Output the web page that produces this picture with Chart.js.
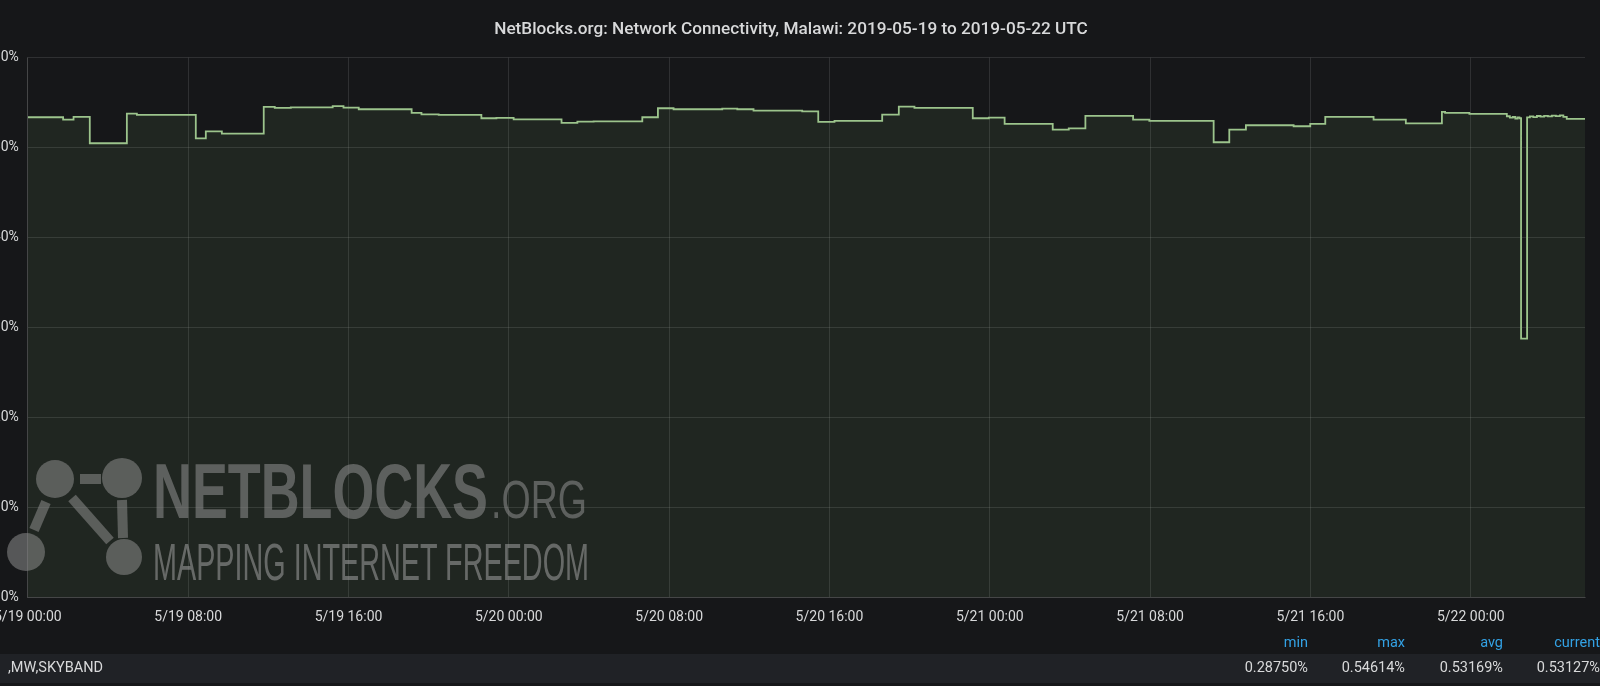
<!DOCTYPE html>
<html>
<head>
<meta charset="utf-8">
<script src="https://cdn.jsdelivr.net/npm/chart.js@4/dist/chart.umd.min.js"></script>
<style>
  html, body { margin: 0; padding: 0; background: #161719; overflow: hidden; }
  body { width: 1600px; height: 686px; position: relative; font-family: Roboto, sans-serif; }
  #wrap { position: absolute; left: -18px; top: 0; width: 1618px; height: 641px; }
  #mark { position: absolute; left: 0; top: 0; pointer-events: none; }
  .legend-head { position: absolute; top: 634px; height: 18px; width: 100%; }
  .legend-row { position: absolute; top: 654px; height: 29px; width: 100%; background: #202226; }
  .cell { position: absolute; font-size: 14.5px; line-height: 18px; white-space: nowrap; text-align: right; }
  .legend-head .cell { color: #33a2e5; top: 0; }
  .legend-row .cell { color: #d8d9da; top: 5px; }
  .series { position: absolute; left: 8px; top: 5px; font-size: 14.5px; line-height: 18px; color: #d8d9da; }
</style>
</head>
<body>
<div id="wrap"><canvas id="netChart"></canvas></div>

<!-- watermark -->
<svg id="mark" width="1600" height="686">
  <g fill="rgba(140,140,140,0.55)">
    <circle cx="55" cy="479" r="19"/>
    <circle cx="122" cy="478" r="20"/>
    <circle cx="26" cy="552" r="19"/>
    <circle cx="124" cy="557" r="18"/>
  </g>
  <g stroke="rgba(140,140,140,0.55)" stroke-width="10" fill="none">
    <line x1="80" y1="479" x2="101" y2="479"/>
    <line x1="122" y1="500" x2="123" y2="538"/>
    <line x1="72" y1="498" x2="110" y2="541"/>
    <line x1="46" y1="502" x2="34" y2="530"/>
  </g>
  <text x="153" y="518" font-family="'Liberation Sans Narrow', 'Liberation Sans', sans-serif" font-weight="bold" font-size="78" textLength="335" lengthAdjust="spacingAndGlyphs" fill="rgba(135,135,135,0.6)">NETBLOCKS</text>
  <text x="491" y="518" font-family="'Liberation Sans Narrow', 'Liberation Sans', sans-serif" font-size="54" textLength="96" lengthAdjust="spacingAndGlyphs" fill="rgba(135,135,135,0.6)">.ORG</text>
  <text x="153" y="580" font-family="'Liberation Sans Narrow', 'Liberation Sans', sans-serif" font-size="52" textLength="436" lengthAdjust="spacingAndGlyphs" fill="rgba(150,150,150,0.6)">MAPPING INTERNET FREEDOM</text>
</svg>

<div class="legend-head" id="legendHead"></div>
<div class="legend-row" id="legendRow"><span class="series" id="seriesName"></span></div>

<script>
// hours since 2019-05-19 00:00 UTC, value holds until the next point
const hours = [
  0, 1.76, 2.28, 3.09, 4.94, 5.44, 8.38, 8.88, 9.68, 11.77, 12.32, 13.12,
  15.21, 15.75, 16.51, 19.15, 19.64, 20.50, 22.63, 23.38, 24.24, 26.63, 27.42, 28.23,
  30.66, 31.44, 32.22, 34.65, 35.40, 36.21, 38.64, 39.44, 40.25, 42.63, 43.46, 44.24,
  47.15, 47.95, 48.74, 51.14, 51.94, 52.77, 55.15, 55.96, 59.17, 59.95, 60.78, 63.16,
  63.99, 64.74, 67.15, 68.76, 70.56, 70.72, 71.93, 73.80, 73.95, 74.10, 74.22, 74.33,
  74.43, 74.51, 74.81, 74.95, 75.12, 75.30, 75.48, 75.66, 75.85, 76.05, 76.25, 76.45,
  76.62, 76.79, 77.70
];

// connectivity in percent
const connectivity = [
  0.5337, 0.5311, 0.5341, 0.5048, 0.5378, 0.5363, 0.5103, 0.5181, 0.5156, 0.5452, 0.5441, 0.5448,
  0.5461, 0.5444, 0.5426, 0.5386, 0.5370, 0.5363, 0.5326, 0.5330, 0.5314, 0.5274, 0.5289, 0.5292,
  0.5337, 0.5437, 0.5426, 0.5433, 0.5426, 0.5411, 0.5403, 0.5286, 0.5297, 0.5367, 0.5456, 0.5441,
  0.5326, 0.5333, 0.5263, 0.5200, 0.5214, 0.5352, 0.5311, 0.5297, 0.5059, 0.5200, 0.5248, 0.5237,
  0.5263, 0.5341, 0.5311, 0.5270, 0.5397, 0.5386, 0.5374, 0.5348, 0.5332, 0.5340, 0.5322, 0.5336,
  0.5326, 0.2875, 0.5336, 0.5346, 0.5339, 0.5351, 0.5344, 0.5353, 0.5347, 0.5356, 0.5349, 0.5357,
  0.5342, 0.5319, 0.5313
];

const seriesLabel = ",MW,SKYBAND";
const statNames = ["min", "max", "avg", "current"];
const statValues = ["0.28750%", "0.54614%", "0.53169%", "0.53127%"];
const statRight = [292, 195, 97, 0];

// legend table
const head = document.getElementById("legendHead");
const row = document.getElementById("legendRow");
document.getElementById("seriesName").textContent = seriesLabel;
statNames.forEach((name, i) => {
  const h = document.createElement("span");
  h.className = "cell";
  h.style.right = statRight[i] + "px";
  h.textContent = name;
  head.appendChild(h);
  const v = document.createElement("span");
  v.className = "cell";
  v.style.right = statRight[i] + "px";
  v.textContent = statValues[i];
  row.appendChild(v);
});

function pad(n) {
  return n < 10 ? "0" + n : "" + n;
}

// format hour offsets like grafana's time axis
function hourLabel(h) {
  const day = 19 + Math.floor(h / 24);
  return "5/" + day + " " + pad(Math.round(h % 24)) + ":00";
}

Chart.defaults.font.family = "Roboto, sans-serif";
Chart.defaults.color = "#d8d9da";

const gridColor = "rgba(255, 255, 255, 0.11)";

new Chart("netChart", {
  type: "line",
  data: {
    datasets: [
      {
        label: seriesLabel,
        data: hours.map((h, i) => ({ x: h, y: connectivity[i] })),
        stepped: true,
        borderColor: "#9cc48c",
        borderWidth: 1.8,
        backgroundColor: "rgba(126, 178, 109, 0.1)",
        fill: "origin",
        pointRadius: 0,
      },
    ],
  },
  options: {
    responsive: true,
    maintainAspectRatio: false,
    animation: false,
    layout: { padding: { right: 0, bottom: 3 } },
    plugins: {
      legend: { display: false },
      tooltip: { enabled: false },
      title: {
        display: true,
        text: "NetBlocks.org: Network Connectivity, Malawi: 2019-05-19 to 2019-05-22 UTC",
        color: "#d8d9da",
        font: { size: 17.2, weight: "500" },
        padding: { top: 19, bottom: 18 },
      },
    },
    scales: {
      x: {
        type: "linear",
        min: 0,
        max: 77.7,
        grid: { color: gridColor, drawTicks: false },
        border: { color: gridColor },
        ticks: {
          stepSize: 8,
          includeBounds: false,
          padding: 12,
          maxRotation: 0,
          font: { size: 14 },
          callback: (v) => hourLabel(v),
        },
      },
      y: {
        min: 0,
        max: 0.6,
        grid: { color: gridColor, drawTicks: false },
        border: { color: gridColor },
        afterFit: (scale) => { scale.width = 45; },
        ticks: {
          stepSize: 0.1,
          padding: 9,
          font: { size: 14 },
          callback: (v) => v.toFixed(2) + "%",
        },
      },
      // empty right axis, only keeps the gap at the right edge
      yRight: {
        position: "right",
        min: 0,
        max: 0.6,
        grid: { display: false },
        border: { display: false },
        ticks: { display: false },
        afterFit: (scale) => { scale.width = 15; },
      },
    },
  },
});
</script>
</body>
</html>
